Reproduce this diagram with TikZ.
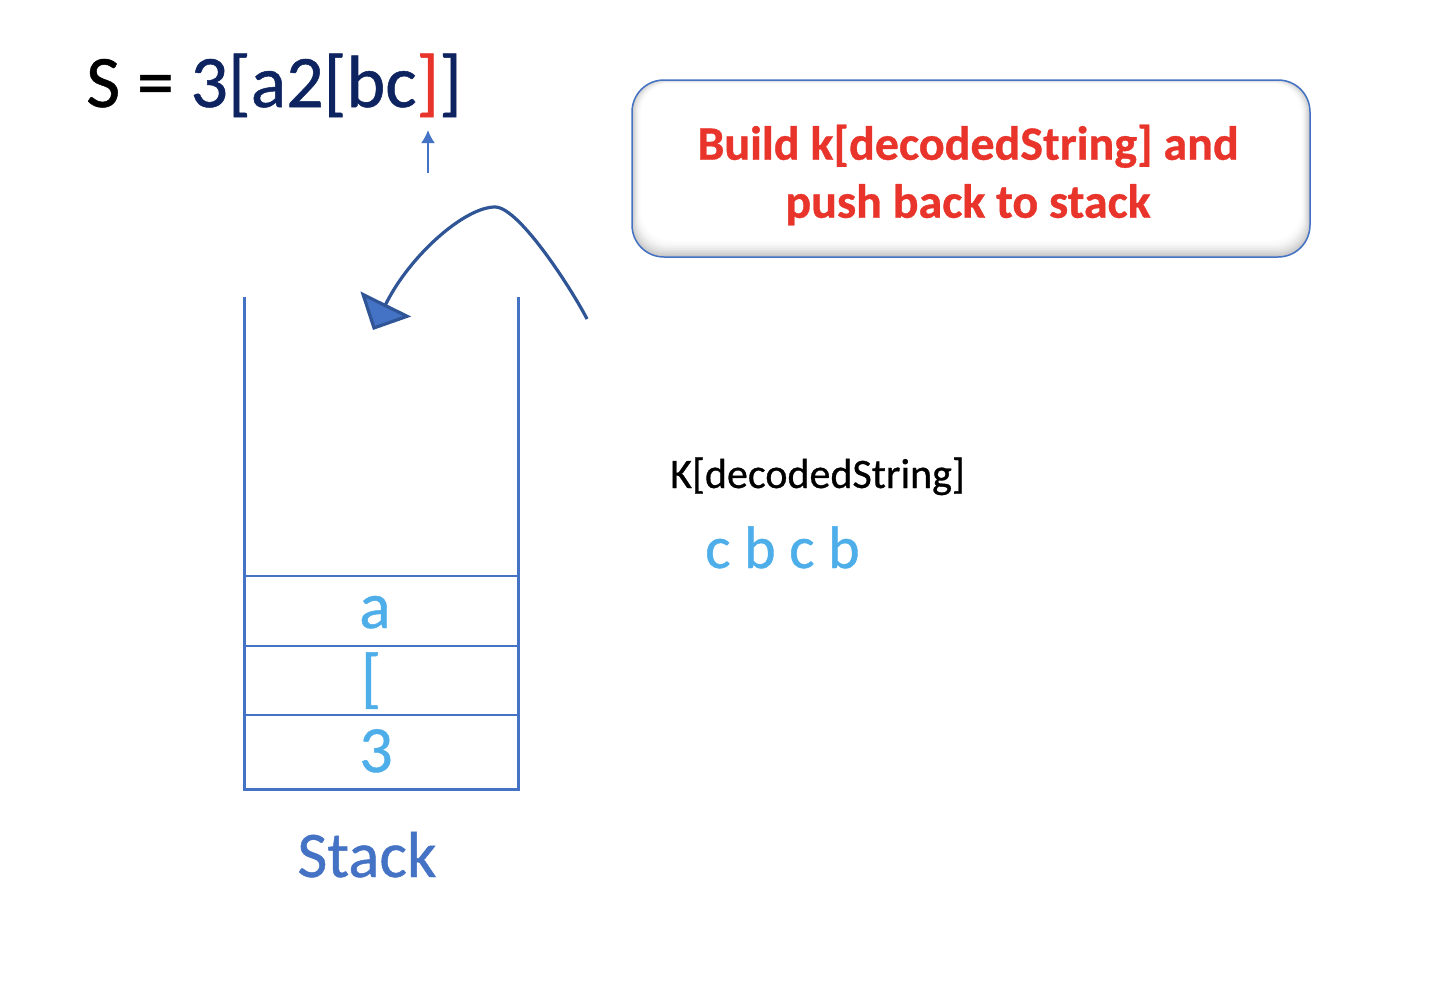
\documentclass[tikz,border=0pt]{standalone}
\usepackage{fontspec}
\setmainfont{Carlito}[FakeBold=0.7]
\usetikzlibrary{arrows.meta}
\definecolor{navy}{HTML}{0E2460}
\definecolor{wallblue}{HTML}{4472C4}
\definecolor{arcblue}{HTML}{2F5597}
\definecolor{cellblue}{HTML}{4DAEEA}
\definecolor{alertred}{HTML}{E8342A}
\tikzset{cell/.style={font=\fontsize{66}{66}\selectfont, text=cellblue, inner sep=0pt, anchor=base}}

\begin{document}
\begin{tikzpicture}[x=1pt, y=-1pt]
  \useasboundingbox [fill=white] (0,0) rectangle (1430,1004);
  % expression and pointer
  \node (expr) [anchor=base west, inner sep=0pt, font=\fontsize{74}{74}\selectfont] at (86,107)
    {S = {\color{navy}3[a2[bc}{\color{alertred}]}{\color{navy}]}};
  \coordinate (ptrtail) at (428,173);
  \coordinate (ptrhead) at (428,130);
  \draw [-{Latex[length=13pt, width=14pt]}, wallblue, line width=2pt] (ptrtail) -- (ptrhead);

  % stack
  \draw [wallblue, line width=3pt] (244,297) -- (244,789) -- (518,789) -- (518,297);
  \foreach \y in {576,646,715}
    \draw [wallblue, line width=1.5pt] (244,\y) -- (518,\y);
  \node (top) [cell] at (375,628) {a};
  \node (mid) [cell] at (371,700) {[};
  \node (bot) [cell] at (376,772) {3};
  \node (stacklabel) [anchor=base, inner sep=0pt, text=wallblue, font=\fontsize{65}{65}\selectfont] at (367,877) {Stack};

  % curved arrow back onto the stack
  \coordinate (arcstart) at (587,319);
  \coordinate (arcpeak) at (495,207);
  \coordinate (arctip) at (373,330);
  \draw [arcblue, line width=3.2pt, -{Triangle[length=29pt, width=56pt, fill=wallblue]}]
    (arcstart) .. controls (575,295) and (520,207) .. (arcpeak) .. controls (465,207) and (410,255) .. (arctip);

  % note box
  \foreach \i/\c in {0/45,1/37,2/30,3/23,4/17,5/12,6/7,7/4,8/2,9/0}
    \fill [gray!\c, rounded corners=30pt] (632+\i,80+0.4*\i) rectangle (1310-\i,257-1.8*\i);
  \node (note) [draw=wallblue, line width=1.5pt, rounded corners=32pt, minimum width=678pt, minimum height=177pt, inner sep=0pt] at (971,168.5) {};
  \node (notetext) [align=center, text=alertred, inner sep=0pt, font=\bfseries\fontsize{48}{58}\selectfont] at (968,175)
    {Build k[decodedString] and\\push back to stack};

  % decoded string
  \node (kds) [anchor=base west, inner sep=0pt, font=\fontsize{42}{42}\selectfont] at (670,488) {K[decodedString]};
  \node (decoded) [anchor=base west, inner sep=0pt, text=cellblue, font=\fontsize{60}{60}\selectfont] at (705,568) {c b c b};
\end{tikzpicture}
\end{document}
